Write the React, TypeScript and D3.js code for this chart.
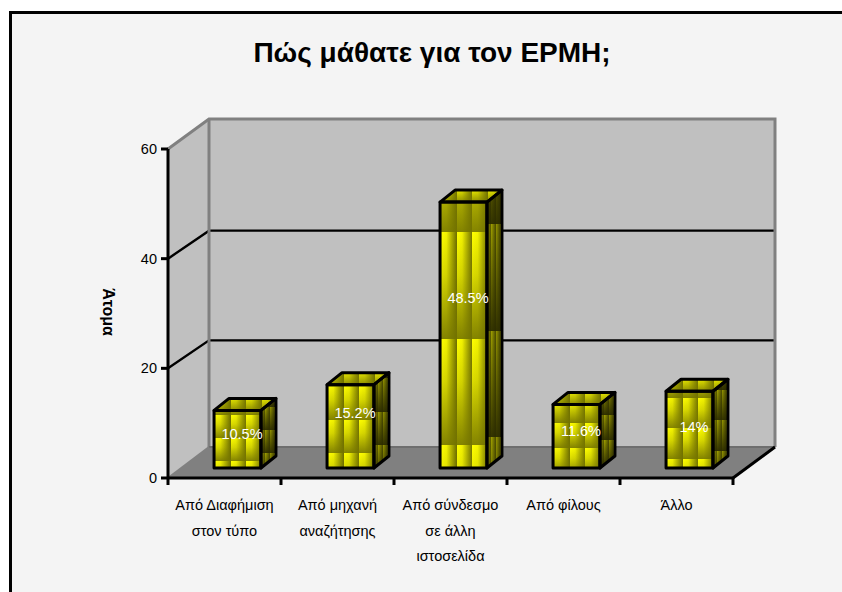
import React from "react";
import * as d3 from "d3";

// Survey results: how visitors found the site
const categories: string[][] = [
  ["Από Διαφήμιση", "στον τύπο"],
  ["Από μηχανή", "αναζήτησης"],
  ["Από σύνδεσμο", "σε άλλη", "ιστοσελίδα"],
  ["Από φίλους"],
  ["Άλλο"],
];
const values = [10.5, 15.2, 48.5, 11.6, 14];
const valueLabels = ["10.5%", "15.2%", "48.5%", "11.6%", "14%"];
const yTicks = [0, 20, 40, 60];
const title = "Πώς μάθατε για τον ΕΡΜΗ;";
const yTitle = "Άτομα";

const FONT = "'Liberation Sans', Arial, sans-serif";

// Oblique projection of the chart box
const DX = 41;
const DY = -30;
const FRONT_LEFT = 168;
const FRONT_RIGHT = 733;
const FRONT_BOTTOM = 478;
const FRONT_TOP = 149;

// Bars stand slightly inside the floor and have their own depth
const BAR_SHIFT_X = 13;
const BAR_BASE_Y = 468;
const BAR_DX = 15;
const BAR_DY = -12;
// Distance of the last texture seam above each bar's base
const seamOffsets = [7, 15, 23, 20, 9];
// How far each value label sits above its bar's midpoint
const labelRise = [4, 12, 36, 4, 2];

const pts = (p: number[][]) => p.map((q) => q.join(",")).join(" ");

function Bar({ i, x, w, top }: { i: number; x: number; w: number; top: number }) {
  const b = BAR_BASE_Y;
  const h = b - top;
  const period = h / 2.5;
  const seam = b - seamOffsets[i];
  const side = pts([[x + w, top], [x + w + BAR_DX, top + BAR_DY], [x + w + BAR_DX, b + BAR_DY], [x + w, b]]);
  const cap = pts([[x, top], [x + BAR_DX, top + BAR_DY], [x + w + BAR_DX, top + BAR_DY], [x + w, top]]);
  const stripe = w / 3;
  return (
    <g>
      <defs>
        <linearGradient id={`fh${i}`} gradientUnits="userSpaceOnUse" x1={x + 1} x2={x + 1 + stripe} y1={0} y2={0} spreadMethod="repeat">
          <stop offset="0" stopColor="#ffff00" />
          <stop offset="0.35" stopColor="#f2f200" />
          <stop offset="1" stopColor="#6f6f00" />
        </linearGradient>
        <linearGradient id={`fv${i}`} gradientUnits="userSpaceOnUse" x1={0} x2={0} y1={seam} y2={seam + period} spreadMethod="repeat">
          <stop offset="0" stopColor="#737300" stopOpacity="0" />
          <stop offset="0.4" stopColor="#737300" stopOpacity="0.25" />
          <stop offset="1" stopColor="#737300" stopOpacity="0.88" />
        </linearGradient>
        <linearGradient id={`sh${i}`} gradientUnits="userSpaceOnUse" x1={x + w} x2={x + w + BAR_DX / 3.5} y1={0} y2={0} spreadMethod="repeat">
          <stop offset="0" stopColor="#a0a000" />
          <stop offset="1" stopColor="#505000" />
        </linearGradient>
        <linearGradient id={`sv${i}`} gradientUnits="userSpaceOnUse" x1={0} x2={0} y1={seam - 8} y2={seam - 8 + period} spreadMethod="repeat">
          <stop offset="0" stopColor="#2a2a00" stopOpacity="0" />
          <stop offset="1" stopColor="#2a2a00" stopOpacity="0.92" />
        </linearGradient>
        <linearGradient id={`cv${i}`} gradientUnits="userSpaceOnUse" x1={0} x2={0} y1={top + BAR_DY} y2={top} spreadMethod="pad">
          <stop offset="0" stopColor="#737300" stopOpacity="0.15" />
          <stop offset="1" stopColor="#737300" stopOpacity="0.8" />
        </linearGradient>
      </defs>
      <rect x={x} y={top} width={w} height={h} fill={`url(#fh${i})`} />
      <rect x={x} y={top} width={w} height={h} fill={`url(#fv${i})`} />
      <polygon points={side} fill={`url(#sh${i})`} />
      <polygon points={side} fill={`url(#sv${i})`} />
      <polygon points={cap} fill={`url(#fh${i})`} />
      <polygon points={cap} fill={`url(#cv${i})`} />
      <g fill="none" stroke="#000" strokeWidth={3} strokeLinejoin="round">
        <rect x={x} y={top} width={w} height={h} />
        <polygon points={side} />
        <polygon points={cap} />
      </g>
    </g>
  );
}

export default function App() {
  const y = d3.scaleLinear().domain([0, 60]).range([FRONT_BOTTOM, FRONT_TOP]);
  const x = d3
    .scaleBand<number>()
    .domain(d3.range(categories.length))
    .range([FRONT_LEFT, FRONT_RIGHT])
    .paddingInner(0.585)
    .paddingOuter(0.2925);
  // Bars rise from the raised base using the same units as the axis
  const barHeight = (v: number) => y(0) - y(v);
  const w = x.bandwidth();

  const backL = FRONT_LEFT + DX;
  const backR = FRONT_RIGHT + DX + 1;
  const backB = FRONT_BOTTOM + DY - 1;
  const backT = FRONT_TOP + DY;

  return (
    <svg
      width={842}
      height={592}
      style={{ position: "absolute", left: 0, top: 0, display: "block" }}
      fontFamily={FONT}
    >
      <rect width={842} height={592} fill="#ffffff" />
      <rect x={10} y={12} width={832} height={580} fill="#f4f4f4" />
      <path d="M10.5,592 V12.5 H842" fill="none" stroke="#000" strokeWidth={3} />

      <text x={432} y={62} textAnchor="middle" fontSize={28} fontWeight="bold" fill="#000">
        {title}
      </text>

      {/* Chart box: walls and floor */}
      <polygon points={pts([[FRONT_LEFT, FRONT_TOP], [backL, backT], [backL, backB], [FRONT_LEFT, FRONT_BOTTOM]])} fill="#c0c0c0" />
      <rect x={backL} y={backT} width={backR - backL} height={backB - backT} fill="#c0c0c0" />
      <polygon points={pts([[FRONT_LEFT, FRONT_BOTTOM], [backL, backB], [backR, backB], [FRONT_RIGHT, FRONT_BOTTOM]])} fill="#808080" />

      {/* Gridlines on the side and back walls */}
      {yTicks.filter((t) => t > 0 && t < 60).map((t) => (
        <g key={t} stroke="#000" strokeWidth={2.4} fill="none">
          <polyline points={pts([[FRONT_LEFT, y(t)], [backL, y(t) + DY + 2], [backR, y(t) + DY + 2]])} />
        </g>
      ))}

      <g stroke="#808080" fill="none" strokeWidth={3}>
        <polyline points={pts([[FRONT_LEFT, FRONT_TOP], [backL, backT], [backR, backT], [backR, backB]])} />
        <line x1={backL} x2={backL} y1={backT} y2={backB} />
      </g>
      <line x1={backL} x2={backR} y1={backB} y2={backB} stroke="#6e6e6e" strokeWidth={2} />
      <line x1={FRONT_LEFT} y1={FRONT_BOTTOM} x2={backL} y2={backB} stroke="#808080" strokeWidth={2} />

      {values.map((v, i) => (
        <Bar key={i} i={i} x={(x(i) as number) + BAR_SHIFT_X} w={w} top={BAR_BASE_Y - barHeight(v)} />
      ))}

      {/* Axis lines and tick marks */}
      <g stroke="#000" strokeWidth={3} fill="none">
        <line x1={FRONT_LEFT} x2={FRONT_LEFT} y1={FRONT_TOP} y2={FRONT_BOTTOM} />
        <line x1={FRONT_LEFT - 1} x2={FRONT_RIGHT} y1={FRONT_BOTTOM} y2={FRONT_BOTTOM} />
        <line x1={FRONT_RIGHT} y1={FRONT_BOTTOM} x2={backR} y2={backB} />
        {yTicks.map((t) => (
          <line key={t} x1={FRONT_LEFT - 7} x2={FRONT_LEFT} y1={y(t)} y2={y(t)} />
        ))}
        {d3.range(categories.length + 1).map((i) => {
          const tx = FRONT_LEFT + (i * (FRONT_RIGHT - FRONT_LEFT)) / categories.length;
          return <line key={i} x1={tx} x2={tx} y1={FRONT_BOTTOM} y2={FRONT_BOTTOM + 7} />;
        })}
      </g>

      {yTicks.map((t) => (
        <text key={t} x={157} y={y(t) + 5} textAnchor="end" fontSize={14.5} fill="#000">
          {t}
        </text>
      ))}

      {categories.map((lines, i) => (
        <text key={i} textAnchor="middle" fontSize={14.5} fill="#000">
          {lines.map((l, j) => (
            <tspan key={j} x={(x(i) as number) + w / 2} y={510 + j * 25.5}>
              {l}
            </tspan>
          ))}
        </text>
      ))}

      {values.map((v, i) => (
        <text
          key={i}
          x={(x(i) as number) + BAR_SHIFT_X + w / 2 + 4.5}
          y={BAR_BASE_Y - barHeight(v) / 2 + 4 - labelRise[i]}
          textAnchor="middle"
          fontSize={14.5}
          fill="#ffffff"
        >
          {valueLabels[i]}
        </text>
      ))}

      <text
        transform="translate(103,312) rotate(90)"
        textAnchor="middle"
        fontSize={16}
        fontWeight="bold"
        fill="#000"
      >
        {yTitle}
      </text>
    </svg>
  );
}
